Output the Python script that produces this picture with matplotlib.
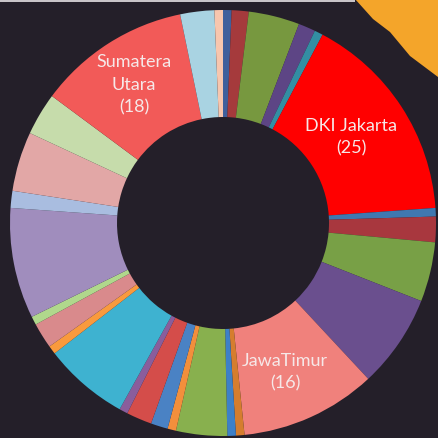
import matplotlib
matplotlib.use("Agg")
from matplotlib import pyplot as plt

# wedge sizes, clockwise from 12 o'clock
values = [1, 2, 6, 2, 1, 25, 1, 3, 7, 11, 16, 1, 1, 6, 1, 2, 3, 1,
          10, 1, 3, 1, 13, 2, 7, 5, 18, 4, 1]
colors = ['#3f5f9c', '#a53a3c', '#77983f', '#5d4585', '#338ea3', '#ff0000',
          '#3f78b0', '#a8373e', '#78a046', '#6a4f8e', '#f0817c', '#d57d2e',
          '#3d80c8', '#88b04e', '#f28f3c', '#4a82c4', '#d44d4a', '#8a5d9c',
          '#3eb2d0', '#f99a3d', '#d98a8c', '#b0d88c', '#a08dbd', '#a9bde0',
          '#e2a7a6', '#c6dcab', '#f25a58', '#a9d3e2', '#f7c6ae']
labels = {5: 'DKI Jakarta\n(25)', 10: 'JawaTimur\n(16)', 26: 'Sumatera\nUtara\n(18)'}
label_pos = {5: (351, 302), 10: (285, 67), 26: (134, 354)}

bg = '#241f29'
W, H = 438, 439

fig = plt.figure(figsize=(W / 100, H / 100), dpi=100, facecolor=bg)
ax = fig.add_axes([0, 0, 1, 1])
ax.set_facecolor(bg)

# orange corner decoration
ax.fill([355, 373, 390, 410, 438, 438], [439, 419, 406, 382, 361, 439],
        color='#f4a52a', lw=0, zorder=0)
ax.fill([0, 355, 355, 0], [436, 436, 439, 439], color='#c8c4c8', lw=0, zorder=0)

ax.pie(values, colors=colors, startangle=90, counterclock=False,
       center=(223, 215), radius=213, frame=True,
       wedgeprops=dict(width=107, linewidth=0))
ax.set_xlim(0, W)
ax.set_ylim(0, H)
ax.axis('off')

for i, txt in labels.items():
    x, y = label_pos[i]
    ax.text(x, y, txt, ha='center', va='center', color='#f6e8e8',
            fontsize=13, family='Lato', linespacing=1.5)

fig.savefig('out.png', dpi=100, facecolor=bg)
